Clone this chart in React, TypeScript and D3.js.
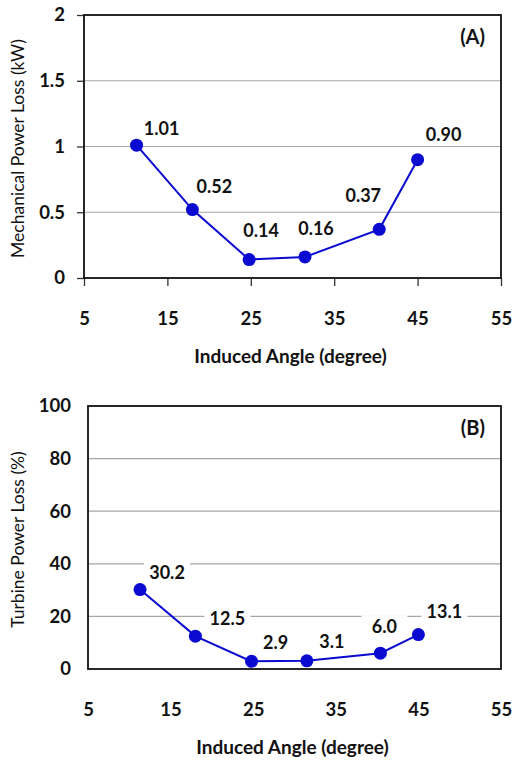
import React, { useEffect, useRef } from 'react';
import * as d3 from 'd3';

const angles = [11.3, 18, 24.8, 31.5, 40.4, 45];
const mechLoss = [1.01, 0.52, 0.14, 0.16, 0.37, 0.9];
const mechLabels = ['1.01', '0.52', '0.14', '0.16', '0.37', '0.90'];
const turbineLoss = [30.2, 12.5, 2.9, 3.1, 6.0, 13.1];
const turbineLabels = ['30.2', '12.5', '2.9', '3.1', '6.0', '13.1'];
const xTicks = [5, 15, 25, 35, 45, 55];
const mechTicks = [0, 0.5, 1, 1.5, 2];
const turbineTicks = [0, 20, 40, 60, 80, 100];

// label centre offsets from each marker (px)
const mechOffsets = [[25, -17], [22, -23], [12, -29], [11, -28], [-16, -34], [26, -25]];
const turbineOffsets = [[27, -17], [32, -18], [24, -19], [25, -19], [4, -27], [26, -23]];

const FONT = 'Lato, "Open Sans", sans-serif';
const lineColor = '#0a0ad0';

interface IPanel {
  box: { left: number; right: number; top: number; bottom: number };
  yDomain: [number, number];
  yTicks: number[];
  values: number[];
  labels: string[];
  offsets: number[][];
  yTitle: string;
  tag: string;
  showTicks: boolean;
  yPad: number;
  xPad: number;
}

const panels: IPanel[] = [
  {
    box: { left: 84, right: 501, top: 15, bottom: 278 },
    yDomain: [0, 2],
    yTicks: mechTicks,
    values: mechLoss,
    labels: mechLabels,
    offsets: mechOffsets,
    yTitle: 'Mechanical Power Loss (kW)',
    tag: '(A)',
    showTicks: true,
    yPad: 12,
    xPad: 26,
  },
  {
    box: { left: 88, right: 501, top: 406, bottom: 669 },
    yDomain: [0, 100],
    yTicks: turbineTicks,
    values: turbineLoss,
    labels: turbineLabels,
    offsets: turbineOffsets,
    yTitle: 'Turbine Power Loss (%)',
    tag: '(B)',
    showTicks: false,
    yPad: 17,
    xPad: 34,
  },
];

const App: React.FC = () => {
  const svgRef = useRef<SVGSVGElement>(null);

  useEffect(() => {
    if (svgRef.current) {
      const svg = d3.select(svgRef.current);
      svg.selectAll('*').remove();
      panels.forEach((p) => drawPanel(svg, p));
    }
  }, []);

  return (
    <svg
      ref={svgRef}
      width={514}
      height={761}
      style={{ position: 'absolute', left: 0, top: 0, background: '#fff' }}
    />
  );
};

const drawPanel = (svg: d3.Selection<SVGSVGElement, unknown, null, undefined>, p: IPanel) => {
  const { left, right, top, bottom } = p.box;
  const g = svg.append('g');

  const xScale = d3.scaleLinear().domain([5, 55]).range([left, right]);
  const yScale = d3.scaleLinear().domain(p.yDomain).range([bottom, top]);

  // gridlines
  g.selectAll('.grid')
    .data(p.yTicks.slice(1, -1))
    .enter()
    .append('line')
    .attr('x1', left)
    .attr('x2', right)
    .attr('y1', (d) => yScale(d))
    .attr('y2', (d) => yScale(d))
    .attr('stroke', '#a6a6a6')
    .attr('stroke-width', 1.2);

  // axes
  const tickLen = p.showTicks ? 7 : 0;
  const yAxis = g
    .append('g')
    .attr('transform', `translate(${left},0)`)
    .call(
      d3
        .axisLeft(yScale)
        .tickValues(p.yTicks)
        .tickSize(tickLen)
        .tickSizeOuter(0)
        .tickPadding(p.yPad)
        .tickFormat((d) => `${d}`)
    );
  const xAxis = g
    .append('g')
    .attr('transform', `translate(0,${bottom})`)
    .call(
      d3
        .axisBottom(xScale)
        .tickValues(xTicks)
        .tickSize(p.showTicks ? 8 : 0)
        .tickSizeOuter(0)
        .tickPadding(p.xPad)
        .tickFormat((d) => `${d}`)
    );
  [yAxis, xAxis].forEach((a) => {
    a.select('.domain').remove();
    a.selectAll('.tick line').attr('stroke', '#333').attr('stroke-width', 1.3);
    a.selectAll('text')
      .style('font-family', FONT)
      .style('font-size', '18.5px')
      .style('font-weight', 'bold')
      .attr('fill', '#111');
  });

  // plot border
  g.append('rect')
    .attr('x', left)
    .attr('y', top)
    .attr('width', right - left)
    .attr('height', bottom - top)
    .attr('fill', 'none')
    .attr('stroke', '#111')
    .attr('stroke-width', 1.8);

  const pts: [number, number][] = angles.map((a, i) => [xScale(a), yScale(p.values[i])]);

  g.append('path')
    .attr('d', d3.line()(pts))
    .attr('fill', 'none')
    .attr('stroke', lineColor)
    .attr('stroke-width', 2);

  g.selectAll('.dot')
    .data(pts)
    .enter()
    .append('circle')
    .attr('cx', (d) => d[0])
    .attr('cy', (d) => d[1])
    .attr('r', 6.5)
    .attr('fill', lineColor);

  // data labels with white boxes
  const lab = g
    .selectAll('.lab')
    .data(pts)
    .enter()
    .append('g')
    .attr('transform', (d, i) => `translate(${d[0] + p.offsets[i][0]},${d[1] + p.offsets[i][1]})`);
  lab
    .append('rect')
    .attr('x', -23)
    .attr('y', -11)
    .attr('width', 46)
    .attr('height', 22)
    .attr('fill', '#fff');
  lab
    .append('text')
    .attr('text-anchor', 'middle')
    .attr('dy', '0.36em')
    .style('font-family', FONT)
    .style('font-size', '18px')
    .style('font-weight', 'bold')
    .attr('fill', '#111')
    .text((d, i) => p.labels[i]);

  // axis titles
  g.append('text')
    .attr('x', (left + right) / 2 - 2)
    .attr('y', bottom + 85)
    .attr('text-anchor', 'middle')
    .style('font-family', FONT)
    .style('font-size', '19px')
    .style('font-weight', 'bold')
    .attr('fill', '#111')
    .text('Induced Angle (degree)');

  g.append('text')
    .attr('transform', `translate(24,${(top + bottom) / 2 + 2}) rotate(-90)`)
    .attr('text-anchor', 'middle')
    .style('font-family', FONT)
    .style('font-size', '17.5px')
    .attr('fill', '#111')
    .text(p.yTitle);

  g.append('text')
    .attr('x', right - 16)
    .attr('y', top + 29)
    .attr('text-anchor', 'end')
    .style('font-family', FONT)
    .style('font-size', '20px')
    .style('font-weight', 'bold')
    .attr('fill', '#111')
    .text(p.tag);
};

export default App;
